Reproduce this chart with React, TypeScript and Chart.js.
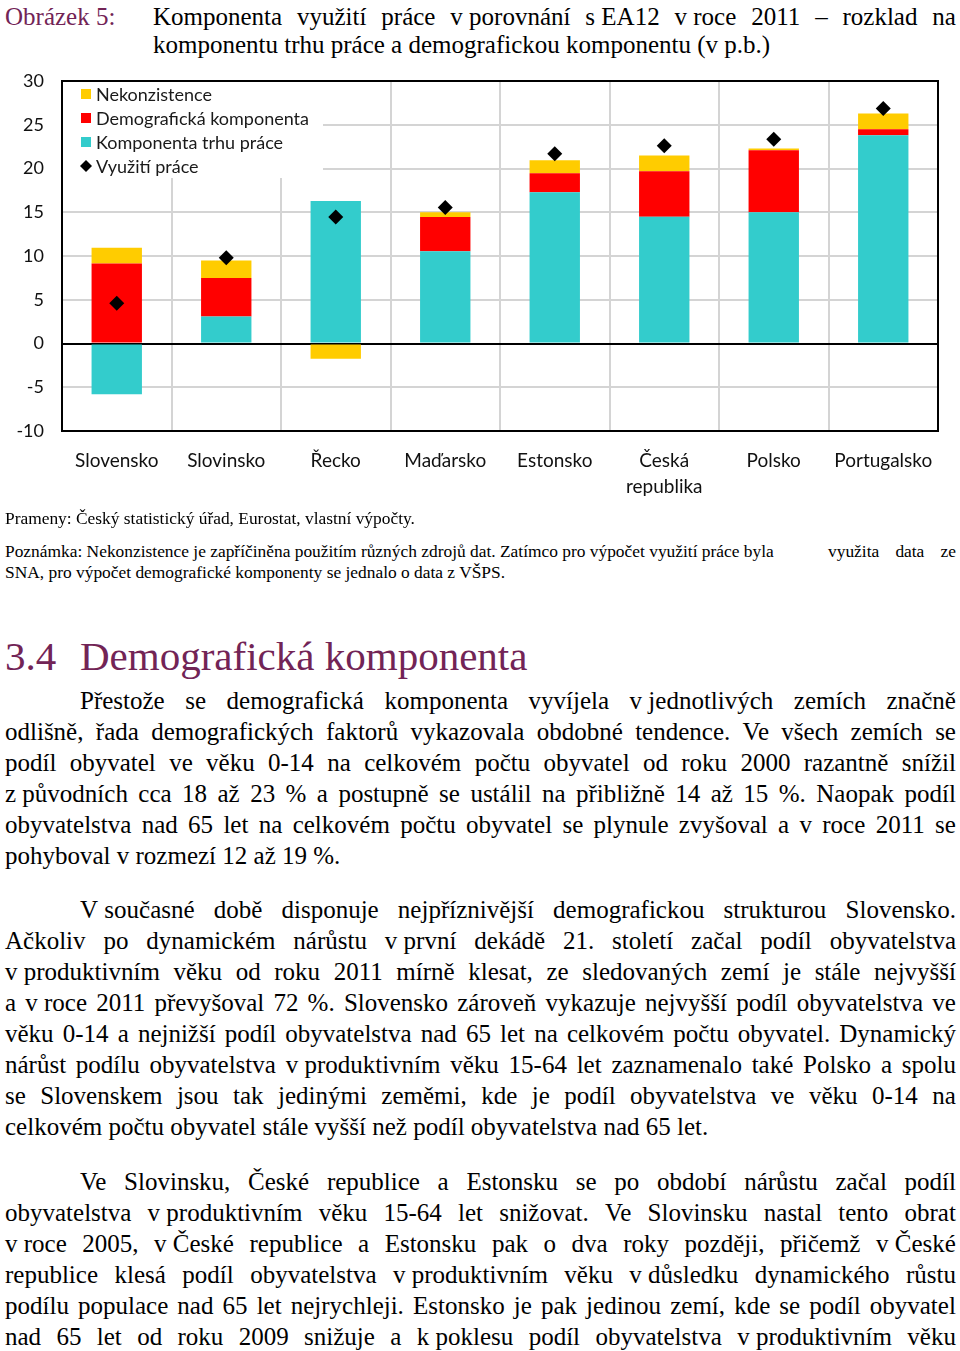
import React, { useEffect, useRef } from 'react';
import { Chart, registerables } from 'chart.js';

Chart.register(...registerables);

// ---------- data ----------
const categories: (string | string[])[] = [
  'Slovensko',
  'Slovinsko',
  'Řecko',
  'Maďarsko',
  'Estonsko',
  ['Česká', 'republika'],
  'Polsko',
  'Portugalsko',
];
const labourMarketComponent = [-5.8, 3.1, 16.3, 10.55, 17.3, 14.5, 15.0, 23.8];
const demographicComponent = [9.15, 4.4, 0, 3.9, 2.15, 5.2, 7.1, 0.7];
const inconsistency = [1.8, 2.0, -1.75, 0.55, 1.5, 1.8, 0.2, 1.8];
const labourUtilisation = [4.6, 9.8, 14.45, 15.55, 21.7, 22.6, 23.35, 26.85];

const seriesNames = [
  'Nekonzistence',
  'Demografická komponenta',
  'Komponenta trhu práce',
  'Využití práce',
];
const yMin = -10;
const yMax = 30;
const yStep = 5;

const YELLOW = '#FFCC00';
const RED = '#FF0000';
const CYAN = '#33CCCC';
const PURPLE = '#722456';
const SERIF = '"Liberation Serif", "Times New Roman", serif';

// ---------- text ----------
const titleLine1 = 'Komponenta využití práce v\u00A0porovnání s\u00A0EA12 v\u00A0roce 2011 – rozklad na';
const titleLine2 = 'komponentu trhu práce a demografickou komponentu (v p.b.)';
const sourceText = 'Prameny: Český statistický úřad, Eurostat, vlastní výpočty.';
const noteLine1a =
  'Poznámka: Nekonzistence je zapříčiněna použitím různých zdrojů dat. Zatímco pro výpočet využití práce byla';
const noteLine1b = 'využita data ze';
const noteLine2 = 'SNA, pro výpočet demografické komponenty se jednalo o data z VŠPS.';

type PLine = { t: string; j: boolean; indent?: boolean };
const para1: PLine[] = [
  { t: 'Přestože se demografická komponenta vyvíjela v\u00A0jednotlivých zemích značně', j: true, indent: true },
  { t: 'odlišně, řada demografických faktorů vykazovala obdobné tendence. Ve všech zemích se', j: true },
  { t: 'podíl obyvatel ve věku 0-14 na celkovém počtu obyvatel od roku 2000 razantně snížil', j: true },
  { t: 'z\u00A0původních cca 18 až 23 % a postupně se ustálil na přibližně 14 až 15 %. Naopak podíl', j: true },
  { t: 'obyvatelstva nad 65 let na celkovém počtu obyvatel se plynule zvyšoval a v roce 2011 se', j: true },
  { t: 'pohyboval v rozmezí 12 až 19 %.', j: false },
];
const para2: PLine[] = [
  { t: 'V\u00A0současné době disponuje nejpříznivější demografickou strukturou Slovensko.', j: true, indent: true },
  { t: 'Ačkoliv po dynamickém nárůstu v\u00A0první dekádě 21. století začal podíl obyvatelstva', j: true },
  { t: 'v\u00A0produktivním věku od roku 2011 mírně klesat, ze sledovaných zemí je stále nejvyšší', j: true },
  { t: 'a v\u00A0roce 2011 převyšoval 72 %. Slovensko zároveň vykazuje nejvyšší podíl obyvatelstva ve', j: true },
  { t: 'věku 0-14 a nejnižší podíl obyvatelstva nad 65 let na celkovém počtu obyvatel. Dynamický', j: true },
  { t: 'nárůst podílu obyvatelstva v\u00A0produktivním věku 15-64 let zaznamenalo také Polsko a spolu', j: true },
  { t: 'se Slovenskem jsou tak jedinými zeměmi, kde je podíl obyvatelstva ve věku 0-14 na', j: true },
  { t: 'celkovém počtu obyvatel stále vyšší než podíl obyvatelstva nad 65 let.', j: false },
];
const para3: PLine[] = [
  { t: 'Ve Slovinsku, České republice a Estonsku se po období nárůstu začal podíl', j: true, indent: true },
  { t: 'obyvatelstva v\u00A0produktivním věku 15-64 let snižovat. Ve Slovinsku nastal tento obrat', j: true },
  { t: 'v\u00A0roce 2005, v\u00A0České republice a Estonsku pak o dva roky později, přičemž v\u00A0České', j: true },
  { t: 'republice klesá podíl obyvatelstva v\u00A0produktivním věku v\u00A0důsledku dynamického růstu', j: true },
  { t: 'podílu populace nad 65 let nejrychleji. Estonsko je pak jedinou zemí, kde se podíl obyvatel', j: true },
  { t: 'nad 65 let od roku 2009 snižuje a k\u00A0poklesu podíl obyvatelstva v\u00A0produktivním věku', j: true },
];

function TextLine(props: {
  text: string;
  yc: number;
  left: number;
  right?: number;
  fs: number;
  justify?: boolean;
  color?: string;
}) {
  const { text, yc, left, right = 956, fs, justify, color = '#000' } = props;
  const lh = fs * 1.3;
  const top = yc - 0.67 * fs;
  const base: React.CSSProperties = {
    position: 'absolute',
    top,
    left,
    fontFamily: SERIF,
    fontSize: fs,
    lineHeight: `${lh}px`,
    color,
    whiteSpace: 'nowrap',
  };
  if (justify) {
    const words = text.split(' ');
    return (
      <div style={{ ...base, width: right - left, display: 'flex', justifyContent: 'space-between' }}>
        {words.map((w, i) => (
          <span key={i} style={{ whiteSpace: 'pre' }}>
            {w}
          </span>
        ))}
      </div>
    );
  }
  return <div style={{ ...base, whiteSpace: 'pre' }}>{text}</div>;
}

function Paragraph({ lines, y0, step, fs }: { lines: PLine[]; y0: number; step: number; fs: number }) {
  return (
    <>
      {lines.map((l, i) => (
        <TextLine key={i} text={l.t} yc={y0 + i * step} left={l.indent ? 80 : 5} fs={fs} justify={l.j} />
      ))}
    </>
  );
}

const insideLegend = {
  id: 'insideLegend',
  beforeDatasetsDraw(chart: any) {
    const { ctx, chartArea } = chart;
    const l = chartArea.left;
    const t = chartArea.top;
    ctx.save();
    ctx.fillStyle = '#ffffff';
    ctx.fillRect(l, t, 261, 97);
    const colors = [YELLOW, RED, CYAN, null];
    ctx.font = '18px Lato';
    ctx.textBaseline = 'middle';
    ctx.textAlign = 'left';
    seriesNames.forEach((name, i) => {
      const y = t + 13 + i * 24;
      const c = colors[i];
      if (c) {
        ctx.fillStyle = c;
        ctx.fillRect(l + 19, y - 5, 10, 10);
      } else {
        ctx.fillStyle = '#000';
        ctx.beginPath();
        ctx.moveTo(l + 24 - 6, y);
        ctx.lineTo(l + 24, y - 6);
        ctx.lineTo(l + 24 + 6, y);
        ctx.lineTo(l + 24, y + 6);
        ctx.closePath();
        ctx.fill();
      }
      ctx.fillStyle = '#1a1a1a';
      ctx.fillText(name, l + 34, y + 1);
    });
    ctx.restore();
  },
};

const frame = {
  id: 'frame',
  afterDraw(chart: any) {
    const { ctx, chartArea } = chart;
    ctx.save();
    ctx.strokeStyle = '#000';
    ctx.lineWidth = 2;
    ctx.strokeRect(chartArea.left, chartArea.top, chartArea.right - chartArea.left, chartArea.bottom - chartArea.top);
    ctx.restore();
  },
};

function BarChart() {
  const ref = useRef<HTMLCanvasElement | null>(null);
  useEffect(() => {
    if (!ref.current) return;
    const chart = new Chart(ref.current, {
      type: 'bar',
      data: {
        labels: categories as any,
        datasets: [
          {
            type: 'bar',
            label: seriesNames[2],
            data: labourMarketComponent,
            backgroundColor: CYAN,
            stack: 'bars',
            order: 1,
            barPercentage: 0.46,
            categoryPercentage: 1,
          },
          {
            type: 'bar',
            label: seriesNames[1],
            data: demographicComponent,
            backgroundColor: RED,
            stack: 'bars',
            order: 1,
            barPercentage: 0.46,
            categoryPercentage: 1,
          },
          {
            type: 'bar',
            label: seriesNames[0],
            data: inconsistency,
            backgroundColor: YELLOW,
            stack: 'bars',
            order: 1,
            barPercentage: 0.46,
            categoryPercentage: 1,
          },
          {
            type: 'line',
            label: seriesNames[3],
            data: labourUtilisation,
            showLine: false,
            pointStyle: 'rectRot',
            pointRadius: 7.5,
            pointBackgroundColor: '#000',
            pointBorderColor: '#000',
            pointBorderWidth: 0,
            stack: 'points',
            order: 0,
          } as any,
        ],
      },
      options: {
        animation: false,
        responsive: true,
        maintainAspectRatio: false,
        layout: { padding: { left: 15, right: 22, top: 11, bottom: 0 } },
        plugins: { legend: { display: false }, tooltip: { enabled: false } },
        scales: {
          x: {
            stacked: true,
            grid: { color: '#d4d4d4', lineWidth: 2, drawTicks: false, offset: true },
            border: { display: false },
            ticks: {
              color: '#111',
              font: { family: 'Lato', size: 19, lineHeight: 1.37 },
              padding: 17,
              maxRotation: 0,
            },
            afterFit(scale: any) {
              scale.height = 79;
            },
          },
          y: {
            stacked: true,
            min: yMin,
            max: yMax,
            grid: {
              color: (c: any) => (c.tick && c.tick.value === 0 ? '#000' : '#d4d4d4'),
              lineWidth: 2,
              drawTicks: false,
            },
            border: { display: false },
            ticks: { stepSize: yStep, color: '#111', font: { family: 'Lato', size: 18 }, padding: 18 },
            afterFit(scale: any) {
              scale.width = 47;
              scale.paddingTop = 0;
              scale.paddingBottom = 0;
            },
          },
        },
      },
      plugins: [insideLegend, frame],
    });
    return () => chart.destroy();
  }, []);
  return (
    <div style={{ position: 'absolute', left: 0, top: 70, width: 960, height: 440 }}>
      <canvas ref={ref} />
    </div>
  );
}

export default function App() {
  return (
    <div
      style={{
        position: 'absolute',
        left: 0,
        top: 0,
        width: 960,
        height: 1351,
        overflow: 'hidden',
        background: '#fff',
      }}
    >
      <TextLine text="Obrázek 5:" yc={18} left={5} fs={25} color={PURPLE} />
      <TextLine text={titleLine1} yc={18} left={153} fs={25} justify />
      <TextLine text={titleLine2} yc={46} left={153} fs={25} />
      <BarChart />
      <TextLine text={sourceText} yc={519} left={5} fs={17.4} />
      <TextLine text={noteLine1a} yc={552} left={5} fs={17.4} />
      <TextLine text={noteLine1b} yc={552} left={828} fs={17.4} justify />
      <TextLine text={noteLine2} yc={573} left={5} fs={17.4} />
      <TextLine text="3.4" yc={657} left={5} fs={41} color={PURPLE} />
      <TextLine text="Demografická komponenta" yc={657} left={80} fs={41} color={PURPLE} />
      <Paragraph lines={para1} y0={702} step={31} fs={25} />
      <Paragraph lines={para2} y0={911} step={31} fs={25} />
      <Paragraph lines={para3} y0={1183} step={31} fs={25} />
    </div>
  );
}
